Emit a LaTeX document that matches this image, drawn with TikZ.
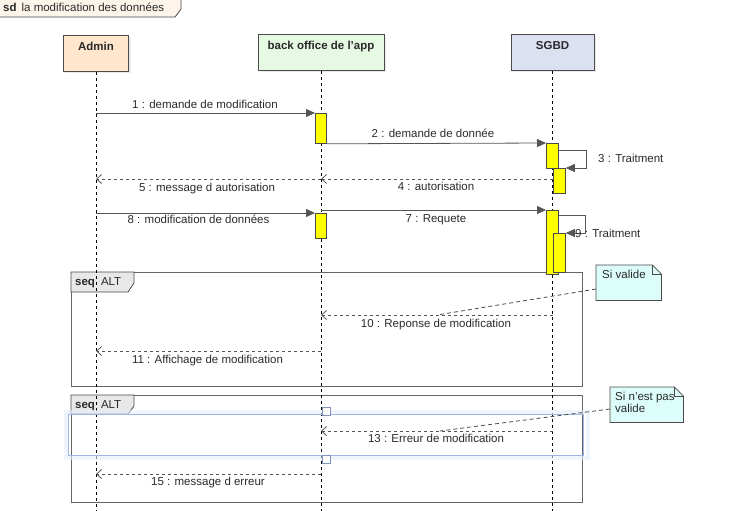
\documentclass[tikz,border=0pt]{standalone}
\usepackage{fontspec}
\setmainfont{Liberation Sans}
\usetikzlibrary{arrows.meta,calc}
\definecolor{admincol}{HTML}{FFE6CC}
\definecolor{bocol}{HTML}{E6F9E3}
\definecolor{sgbdcol}{HTML}{DCE1F2}
\definecolor{actcol}{HTML}{FFFF00}
\definecolor{notecol}{HTML}{DDFDFA}
\definecolor{tagcol}{HTML}{E8E8E8}
\definecolor{sdcol}{HTML}{FDF5EA}
\definecolor{linecol}{HTML}{4A4A4A}
\definecolor{msgcol}{HTML}{555555}
\definecolor{txtcol}{HTML}{2A2A2A}
\definecolor{selcol}{HTML}{9DB8E6}
\definecolor{glowcol}{HTML}{E4EDFB}
\begin{document}
\begin{tikzpicture}[x=1pt,y=-1pt,
  every node/.style={font=\fontsize{11.5}{13.5}\selectfont, text=txtcol},
  hdr/.style={draw=linecol, line width=0.8pt, anchor=north, minimum height=36pt,
    inner ysep=4pt, text height=11pt, text depth=17pt,
    font=\fontsize{11.5}{13.5}\selectfont\bfseries},
  actbox/.style={draw=linecol, line width=0.8pt, fill=actcol, anchor=north west,
    minimum width=11pt, inner sep=0pt},
  lifeline/.style={draw=black, line width=0.7pt, dash pattern=on 3pt off 3pt},
  syncmsg/.style={draw=msgcol, line width=0.8pt, -{Triangle[length=9pt,width=8pt]}},
  retmsg/.style={draw=msgcol, line width=0.8pt, dash pattern=on 3pt off 3pt,
    -{Straight Barb[length=5pt,width=9pt]}},
  lbl/.style={anchor=base, inner sep=0pt},
  framebox/.style={draw=linecol!85, line width=1pt},
  tag/.style={draw=linecol, line width=0.8pt, fill=tagcol},
  notebody/.style={anchor=north west, inner sep=0pt, draw=none},
  notedraw/.style={draw=linecol, line width=0.8pt, fill=notecol},
  notelink/.style={draw=linecol, line width=0.8pt, dash pattern=on 4pt off 3pt},
  handle/.style={draw=selcol!80!black, fill=white, line width=0.6pt, minimum size=8pt, inner sep=0pt}
]
\useasboundingbox (0,0) rectangle (744,511);

% sd tag
\filldraw[draw=linecol, line width=0.8pt, fill=sdcol] (-1,-1) -- (181,-1) -- (181,9) -- (175,17) -- (-1,17) -- cycle;
\node[anchor=base west, inner sep=0pt] (sdt) at (3,12) {\textbf{sd}\hspace{5pt}la modification des données};

% combined fragments
\draw[framebox] (71,272) rectangle (582,386);
\filldraw[tag] (71,272) -- (134,272) -- (134,283) -- (128,292) -- (71,292) -- cycle;
\node[anchor=base west, inner sep=0pt] (f1t) at (75,285) {\textbf{seq}\hspace{6pt}ALT};

\draw[framebox] (71,395) rectangle (582,502);
\filldraw[tag] (71,395) -- (134,395) -- (134,406) -- (128,414) -- (71,414) -- cycle;
\node[anchor=base west, inner sep=0pt] (f2t) at (75,408) {\textbf{seq}\hspace{6pt}ALT};

% header shadows
\fill[black, opacity=0.08] (65,37) rectangle (131,73);
\fill[black, opacity=0.08] (260,36) rectangle (386,72);
\fill[black, opacity=0.08] (513,36) rectangle (596,72);

% headers
\node[hdr, fill=admincol, minimum width=65pt] (admin) at (96,35) {Admin};
\node[hdr, fill=bocol, minimum width=126pt] (bo) at (321,34) {back office de l'app};
\node[hdr, fill=sgbdcol, minimum width=83pt] (sgbd) at (552.5,34) {SGBD};

% lifelines
\coordinate (adminEnd) at (96,511);
\coordinate (boEnd) at (321,511);
\coordinate (sgbdEnd) at (552.5,511);
\draw[lifeline] (admin.south) -- (adminEnd);
\draw[lifeline] (bo.south) -- (boEnd);
\draw[lifeline] (sgbd.south) -- (sgbdEnd);

% selection highlight
\draw[glowcol, line width=4pt, opacity=0.6] (65.5,411.5) rectangle (587.5,457.5);
\draw[selcol, line width=0.9pt] (68,414) rectangle (583,455);
\node[handle] (h1) at (326,411.5) {};
\node[handle] (h2) at (326,459) {};

% activations
\node[actbox, minimum height=30pt] (act1) at (315,113) {};
\node[actbox, minimum width=12pt, minimum height=25pt] (act2) at (546,143) {};
\node[actbox, minimum width=12pt, minimum height=25pt] (act3) at (553,168) {};
\node[actbox, minimum height=25pt] (act4) at (315,213) {};
\node[actbox, minimum width=12pt, minimum height=64pt] (act5) at (546,210) {};
\node[actbox, minimum width=12pt, minimum height=39pt] (act6) at (553,233) {};

% coordinates for messages
\coordinate (m1s) at (96,113);
\coordinate (m3a) at (558,150);
\coordinate (m3b) at (586,150);
\coordinate (m3c) at (586,168);
\coordinate (m4s) at (553,179);
\coordinate (m4e) at (321,179);
\coordinate (m5e) at (96,179);
\coordinate (m8s) at (96,213);
\coordinate (m7s) at (321,210);
\coordinate (m9a) at (558,215);
\coordinate (m9b) at (585,215);
\coordinate (m9c) at (585,233);
\coordinate (m10s) at (553,315);
\coordinate (m10e) at (321,315);
\coordinate (m11e) at (96,351);
\coordinate (m11s) at (321,351);
\coordinate (m13s) at (553,431);
\coordinate (m13e) at (321,431);
\coordinate (m15s) at (321,474);
\coordinate (m15e) at (96,474);

% messages
\draw[syncmsg] (m1s) -- (act1.north west);
\draw[syncmsg] (act1.south east) -- (act2.north west);
\draw[syncmsg] (m3a) -- (m3b) -- (m3c) -- (act3.north east);
\draw[retmsg] (m4s) -- (m4e);
\draw[retmsg] (m4e) -- (m5e);
\draw[syncmsg] (m8s) -- (act4.north west);
\draw[syncmsg] (m7s) -- (act5.north west);
\draw[syncmsg] (m9a) -- (m9b) -- (m9c) -- (act6.north east);
\draw[retmsg] (m10s) -- (m10e);
\draw[retmsg] (m11s) -- (m11e);
\draw[retmsg] (m13s) -- (m13e);
\draw[retmsg] (m15s) -- (m15e);

% labels
\node[lbl] (l1) at (205,108) {1 : demande de modification};
\node[lbl] (l2) at (433,137) {2 : demande de donnée};
\node[lbl, anchor=base west] (l3) at (598,162) {3 : Traitment};
\node[lbl] (l4) at (436,190) {4 : autorisation};
\node[lbl] (l5) at (207,191) {5 : message d autorisation};
\node[lbl] (l8) at (198.5,223) {8 : modification de données};
\node[lbl] (l7) at (436,222) {7 : Requete};
\node[lbl, anchor=base west] (l9) at (575,237) {9 : Traitment};
\node[lbl] (l10) at (436,327) {10 : Reponse de modification};
\node[lbl] (l11) at (207.5,363) {11 : Affichage de modification};
\node[lbl] (l13) at (436,442) {13 : Erreur de modification};
\node[lbl] (l15) at (208,485) {15 : message d erreur};

% notes
\node[notebody, minimum width=65pt, minimum height=35pt] (n1) at (596,265) {};
\filldraw[notedraw] (n1.north west) -- ($(n1.north east)+(-9,0)$) -- ($(n1.north east)+(0,9)$) -- (n1.south east) -- (n1.south west) -- cycle;
\draw[notedraw, fill=none] ($(n1.north east)+(-9,0)$) -- ($(n1.north east)+(-9,9)$) -- ($(n1.north east)+(0,9)$);
\node[anchor=base west, inner sep=0pt] (n1t) at (602,278) {Si valide};
\coordinate (n1l) at (596,289);
\coordinate (m10m) at (437,315);
\draw[notelink] (n1l) -- (m10m);

\node[notebody, minimum width=73pt, minimum height=35pt] (n2) at (610,387) {};
\filldraw[notedraw] (n2.north west) -- ($(n2.north east)+(-9,0)$) -- ($(n2.north east)+(0,9)$) -- (n2.south east) -- (n2.south west) -- cycle;
\draw[notedraw, fill=none] ($(n2.north east)+(-9,0)$) -- ($(n2.north east)+(-9,9)$) -- ($(n2.north east)+(0,9)$);
\node[anchor=base west, inner sep=0pt] (n2t) at (615,400) {Si n'est pas};
\node[anchor=base west, inner sep=0pt] (n2u) at (615,412) {valide};
\coordinate (n2l) at (610,409);
\coordinate (m13m) at (440,431);
\draw[notelink] (n2l) -- (m13m);
\end{tikzpicture}
\end{document}
